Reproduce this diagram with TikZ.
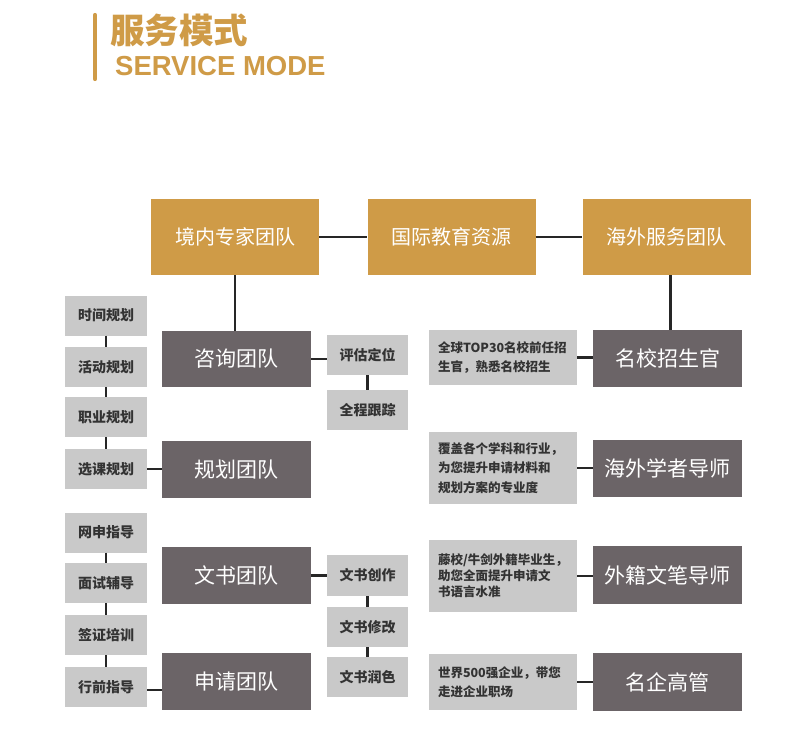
\documentclass[tikz,border=0pt]{standalone}
\usepackage{fontspec}
\newfontfamily\cjk{Noto Sans CJK SC}
\newfontfamily\hdr{Liberation Sans}
\definecolor{goldc}{HTML}{CF9B47}
\definecolor{darkc}{HTML}{6B6467}
\definecolor{lightc}{HTML}{C9C9C9}
\definecolor{textc}{HTML}{333333}
\begin{document}
\begin{tikzpicture}[x=1pt,y=-1pt,
  conn/.style={draw=black!85, line width=2.6pt},
  gold/.style={fill=goldc, text=white, font=\cjk\fontsize{20}{24}\selectfont, minimum width=168pt, minimum height=76pt, inner sep=0pt},
  dark/.style={fill=darkc, text=white, font=\cjk\fontsize{21}{25}\selectfont, minimum width=149pt, minimum height=57pt, inner sep=0pt},
  small/.style={fill=lightc, text=textc, font=\cjk\bfseries\fontsize{14}{16}\selectfont, minimum width=82pt, minimum height=40pt, inner sep=0pt},
  desc/.style={fill=lightc, text=textc, text width=130pt, align=left, inner xsep=9pt, inner ysep=0pt},
  descfont/.style={font=\cjk\bfseries\fontsize{12.5}{#1}\selectfont}
]
\useasboundingbox (0,0) rectangle (793,729);
\fill[white] (0,0) rectangle (793,729);
% header
\draw[goldc, line width=4.2pt, line cap=round] (95,15) -- (95,79);
\node[anchor=west, inner sep=0pt, text=goldc, font=\cjk\bfseries\fontsize{34.5}{40}\selectfont] (title) at (110,30.5) {服务模式};
\node[anchor=west, inner sep=0pt, text=goldc, font=\hdr\bfseries\fontsize{27.5}{30}\selectfont] (subtitle) at (115,66) {SERVICE MODE};
% top row
\node[gold] (g1) at (235,237) {境内专家团队};
\node[gold] (g2) at (451.5,237) {国际教育资源};
\node[gold] (g3) at (666.5,237) {海外服务团队};
% left dark boxes
\node[dark, minimum height=56pt] (zx) at (236.5,359) {咨询团队};
\node[dark] (gh) at (236.5,469.5) {规划团队};
\node[dark] (ws) at (236.5,575.5) {文书团队};
\node[dark] (sq) at (236.5,681.5) {申请团队};
% left small boxes
\node[small] (l1) at (106,315.5) {时间规划};
\node[small] (l2) at (106,367) {活动规划};
\node[small] (l3) at (106,417) {职业规划};
\node[small] (l4) at (106,469) {选课规划};
\node[small] (l5) at (106,532.5) {网申指导};
\node[small] (l6) at (106,583) {面试辅导};
\node[small] (l7) at (106,635) {签证培训};
\node[small] (l8) at (106,687) {行前指导};
% middle small boxes
\node[small, minimum width=81pt] (m1) at (367.5,355) {评估定位};
\node[small, minimum width=81pt] (m2) at (367.5,410) {全程跟踪};
\node[small, minimum width=81pt, minimum height=41pt] (m3) at (367.5,575.5) {文书创作};
\node[small, minimum width=81pt] (m4) at (367.5,627) {文书修改};
\node[small, minimum width=81pt] (m5) at (367.5,677) {文书润色};
% right dark boxes
\node[dark] (r1) at (667.5,358.5) {名校招生官};
\node[dark] (r2) at (667.5,468.5) {海外学者导师};
\node[dark, minimum height=58pt] (r3) at (667.5,575) {外籍文笔导师};
\node[dark, minimum height=58pt] (r4) at (667.5,682) {名企高管};
% description boxes
\node[desc, descfont=19, minimum height=55pt] (d1) at (503,357.5) {全球TOP30名校前任招\\生官，熟悉名校招生};
\node[desc, descfont=19.5, minimum height=72pt] (d2) at (503,468) {覆盖各个学科和行业，\\为您提升申请材料和\\规划方案的专业度};
\node[desc, descfont=16, minimum height=72pt] (d3) at (503,576) {藤校/牛剑外籍毕业生，\\助您全面提升申请文\\书语言水准};
\node[desc, descfont=19, minimum height=56pt] (d4) at (503,682) {世界500强企业，带您\\走进企业职场};
% connectors
\draw[conn] (g1.east) -- (g2.west);
\draw[conn] (g2.east) -- (g3.west);
\draw[conn] (g1.south) -- (g1.south |- zx.north);
\draw[conn] ([xshift=4pt]g3.south) -- ([xshift=4pt]g3.south |- r1.north);
\draw[conn] (l1) -- (l2);
\draw[conn] (l2) -- (l3);
\draw[conn] (l3) -- (l4);
\draw[conn] (l5) -- (l6);
\draw[conn] (l6) -- (l7);
\draw[conn] (l7) -- (l8);
\draw[conn] (l4.east) -- (l4.east -| gh.west);
\draw[conn] ([yshift=-3pt]l8.east) -- ([yshift=-3pt]l8.east -| sq.west);
\draw[conn] (zx.east) -- (zx.east -| m1.west);
\draw[conn] (m1) -- (m2);
\draw[conn] (ws.east) -- (ws.east -| m3.west);
\draw[conn] (m3) -- (m4);
\draw[conn] (m4) -- (m5);
\draw[conn] (d1.east) -- (d1.east -| r1.west);
\draw[conn] (d2.east) -- (d2.east -| r2.west);
\draw[conn] (d3.east) -- (d3.east -| r3.west);
\draw[conn] (d4.east) -- (d4.east -| r4.west);
\end{tikzpicture}
\end{document}
